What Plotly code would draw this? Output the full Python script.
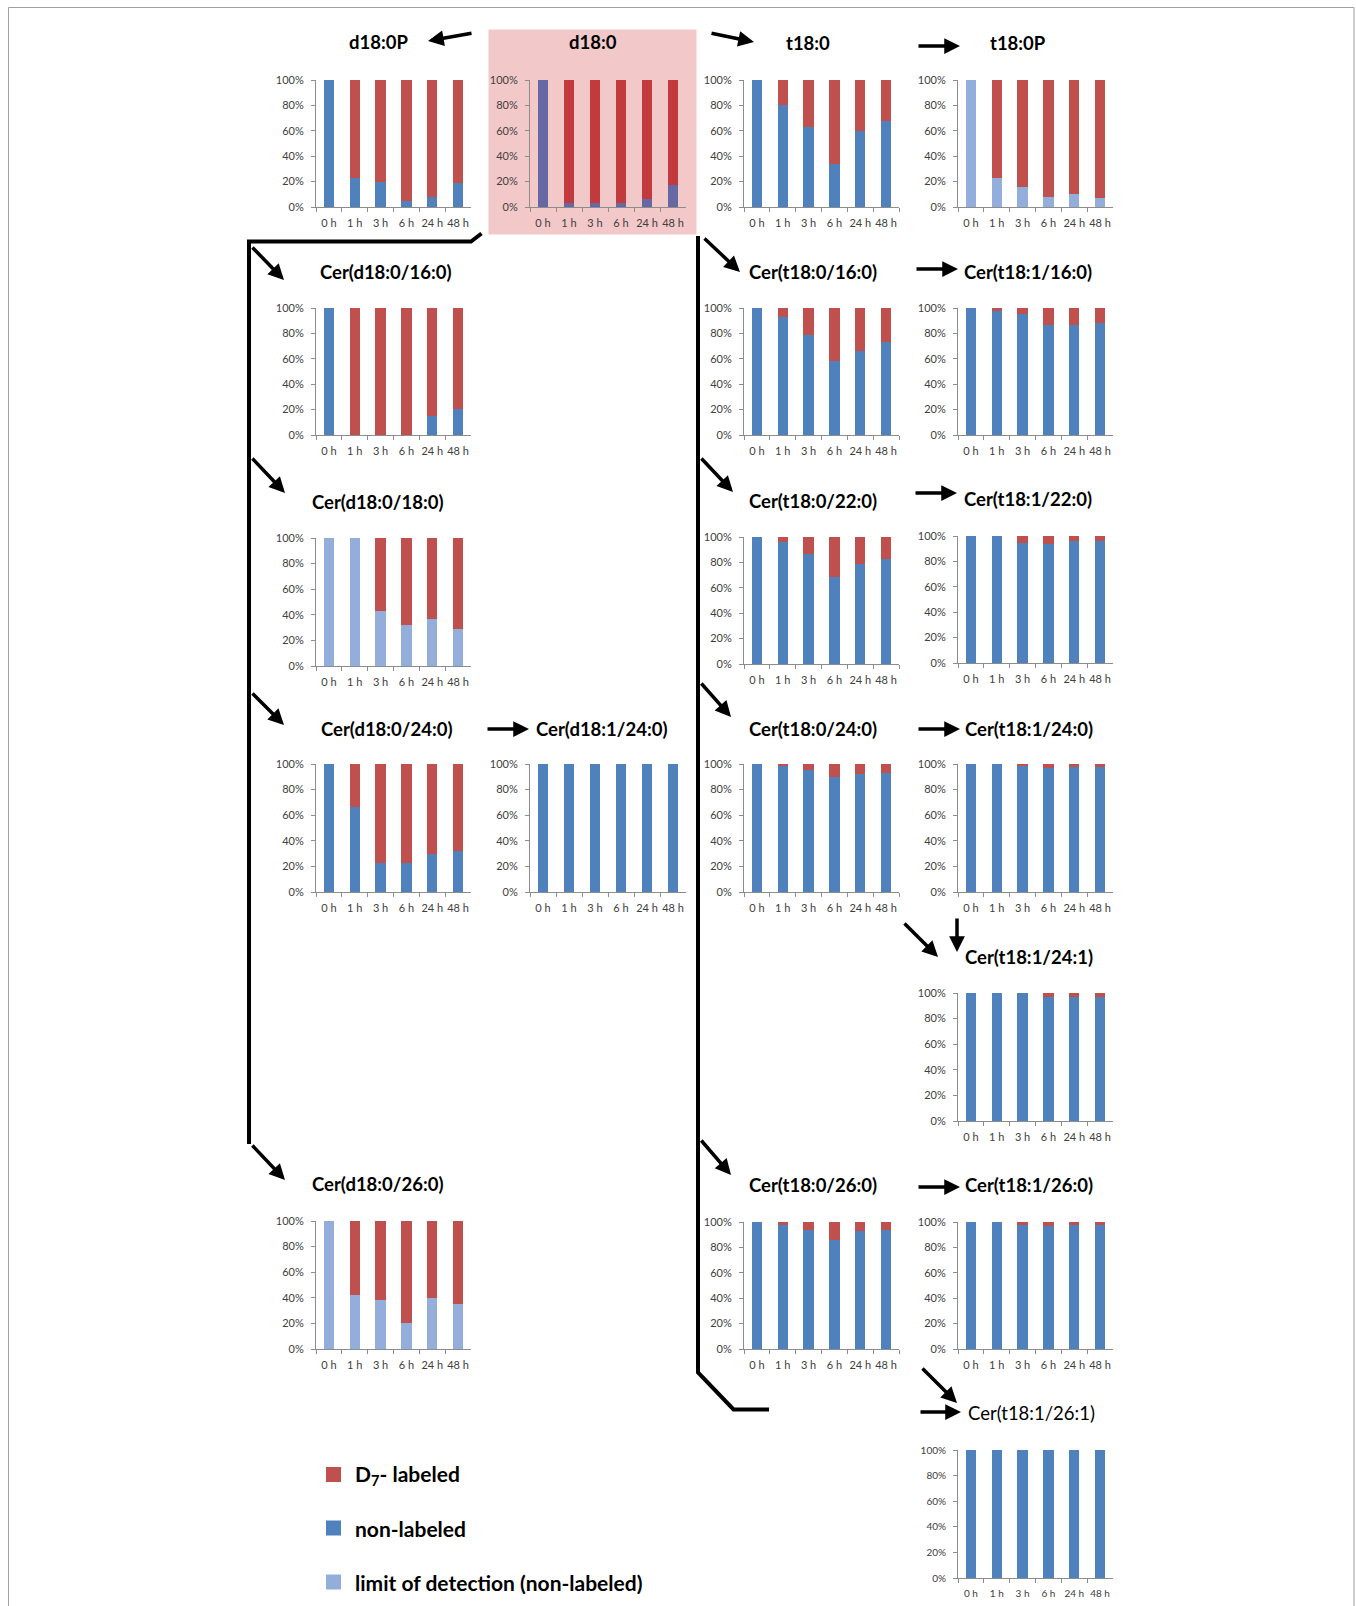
import plotly.graph_objects as go

W, H = 1356, 1606

# ---------------- data (percent of total) ----------------
hours = ["0 h", "1 h", "3 h", "6 h", "24 h", "48 h"]

d180P_non = [100, 22.5, 19.5, 4.5, 8, 19]
d180P_lab = [0, 77.5, 80.5, 95.5, 92, 81]

d180_non = [100, 3, 3, 3.5, 6, 17]
d180_lab = [0, 97, 97, 96.5, 94, 83]

t180_non = [100, 80, 63, 34, 59.5, 68]
t180_lab = [0, 20, 37, 66, 40.5, 32]

t180P_lod = [100, 23, 16, 8, 10, 7]
t180P_lab = [0, 77, 84, 92, 90, 93]

cer_d180_160_non = [100, 0, 0, 0, 15, 20.5]
cer_d180_160_lab = [0, 100, 100, 100, 85, 79.5]

cer_t180_160_non = [100, 93, 78.5, 58.5, 66, 73.5]
cer_t180_160_lab = [0, 7, 21.5, 41.5, 34, 26.5]

cer_t181_160_non = [100, 98, 95.5, 86.5, 86.5, 88.5]
cer_t181_160_lab = [0, 2, 4.5, 13.5, 13.5, 11.5]

cer_d180_180_lod = [100, 100, 43, 32, 36.5, 29]
cer_d180_180_lab = [0, 0, 57, 68, 63.5, 71]

cer_t180_220_non = [100, 96, 87, 68.5, 78.5, 83]
cer_t180_220_lab = [0, 4, 13, 31.5, 21.5, 17]

cer_t181_220_non = [100, 100, 94.5, 94, 96, 96]
cer_t181_220_lab = [0, 0, 5.5, 6, 4, 4]

cer_d180_240_non = [100, 66.5, 23, 22.5, 29.5, 32]
cer_d180_240_lab = [0, 33.5, 77, 77.5, 70.5, 68]

cer_d181_240_non = [100, 100, 100, 100, 100, 100]
cer_d181_240_lab = [0, 0, 0, 0, 0, 0]

cer_t180_240_non = [100, 98.5, 95, 89.5, 92, 93]
cer_t180_240_lab = [0, 1.5, 5, 10.5, 8, 7]

cer_t181_240_non = [100, 100, 99, 97, 97.5, 97.5]
cer_t181_240_lab = [0, 0, 1, 3, 2.5, 2.5]

cer_t181_241_non = [100, 100, 100, 97, 96.5, 96.5]
cer_t181_241_lab = [0, 0, 0, 3, 3.5, 3.5]

cer_d180_260_lod = [100, 42, 38, 20, 39.5, 35.5]
cer_d180_260_lab = [0, 58, 62, 80, 60.5, 64.5]

cer_t180_260_non = [100, 98, 93.5, 86, 93, 94]
cer_t180_260_lab = [0, 2, 6.5, 14, 7, 6]

cer_t181_260_non = [100, 100, 98, 97, 97.5, 97.5]
cer_t181_260_lab = [0, 0, 2, 3, 2.5, 2.5]

cer_t181_261_non = [100, 100, 100, 100, 100, 100]
cer_t181_261_lab = [0, 0, 0, 0, 0, 0]

legend_labels = ["D<sub>7</sub>- labeled", "non-labeled", "limit of detection (non-labeled)"]
y_ticks = [0, 20, 40, 60, 80, 100]
y_ticktext = ["0%", "20%", "40%", "60%", "80%", "100%"]

# ---------------- styles ----------------
BLUE = "#4F81BD"
RED = "#C0504D"
LOD = "#93AEDA"
PINK = "#F3C8C9"
PINK_BLUE = "#6568A2"
PINK_RED = "#C23A3C"
AXIS = "#8C8C8C"
TICKCOL = "#404040"
FONT = "Lato"


def px(x):
    return x / W


def py(y):
    return 1 - y / H


# columns (left, right) and rows (top, bottom) in pixels
CL, CM, CR1, CR2 = (316, 471), (530, 686), (744, 899), (958, 1113)

panels = [
    ("d18:0P", d180P_non, d180P_lab, "non", CL, (80, 207), (378, 42), "bold"),
    ("d18:0", d180_non, d180_lab, "pink", CM, (80, 207), (593, 42), "bold"),
    ("t18:0", t180_non, t180_lab, "non", CR1, (80, 207), (808, 43), "bold"),
    ("t18:0P", t180P_lod, t180P_lab, "lod", CR2, (80, 207), (1018, 43), "bold"),
    ("Cer(d18:0/16:0)", cer_d180_160_non, cer_d180_160_lab, "non", CL, (308, 435), (386, 272), "bold"),
    ("Cer(t18:0/16:0)", cer_t180_160_non, cer_t180_160_lab, "non", CR1, (308, 435), (813, 272), "bold"),
    ("Cer(t18:1/16:0)", cer_t181_160_non, cer_t181_160_lab, "non", CR2, (308, 435), (1028, 272), "bold"),
    ("Cer(d18:0/18:0)", cer_d180_180_lod, cer_d180_180_lab, "lod", CL, (538, 666), (378, 502), "bold"),
    ("Cer(t18:0/22:0)", cer_t180_220_non, cer_t180_220_lab, "non", CR1, (537, 664), (813, 501), "bold"),
    ("Cer(t18:1/22:0)", cer_t181_220_non, cer_t181_220_lab, "non", CR2, (536, 663), (1028, 499), "bold"),
    ("Cer(d18:0/24:0)", cer_d180_240_non, cer_d180_240_lab, "non", CL, (764, 892), (387, 729), "bold"),
    ("Cer(d18:1/24:0)", cer_d181_240_non, cer_d181_240_lab, "non", CM, (764, 892), (602, 729), "bold"),
    ("Cer(t18:0/24:0)", cer_t180_240_non, cer_t180_240_lab, "non", CR1, (764, 892), (813, 729), "bold"),
    ("Cer(t18:1/24:0)", cer_t181_240_non, cer_t181_240_lab, "non", CR2, (764, 892), (1029, 729), "bold"),
    ("Cer(t18:1/24:1)", cer_t181_241_non, cer_t181_241_lab, "non", CR2, (993, 1121), (1029, 957), "bold"),
    ("Cer(d18:0/26:0)", cer_d180_260_lod, cer_d180_260_lab, "lod", CL, (1221, 1349), (378, 1184), "bold"),
    ("Cer(t18:0/26:0)", cer_t180_260_non, cer_t180_260_lab, "non", CR1, (1222, 1349), (813, 1185), "bold"),
    ("Cer(t18:1/26:0)", cer_t181_260_non, cer_t181_260_lab, "non", CR2, (1222, 1349), (1029, 1185), "bold"),
    ("Cer(t18:1/26:1)", cer_t181_261_non, cer_t181_261_lab, "non", CR2, (1450, 1578), (1031, 1413), "small"),
]

fig = go.Figure()
layout_axes = {}
annotations = []
shapes = []

# pink highlight behind d18:0
shapes.append(dict(type="rect", xref="paper", yref="paper",
                   x0=px(488.5), x1=px(696.5), y0=py(234.5), y1=py(29.5),
                   fillcolor=PINK, line=dict(width=0), layer="below"))

for i, (title, base, lab, kind, (xl, xr), (yt, yb), (tx, ty), style) in enumerate(panels, start=1):
    xa = "x" if i == 1 else f"x{i}"
    ya = "y" if i == 1 else f"y{i}"
    if kind == "non":
        bcol, rcol = BLUE, RED
    elif kind == "lod":
        bcol, rcol = LOD, RED
    else:
        bcol, rcol = PINK_BLUE, PINK_RED
    fig.add_trace(go.Bar(x=hours, y=base, xaxis=xa, yaxis=ya, marker=dict(color=bcol, line=dict(width=0)),
                         width=0.4, showlegend=False))
    fig.add_trace(go.Bar(x=hours, y=lab, xaxis=xa, yaxis=ya, marker=dict(color=rcol, line=dict(width=0)),
                         width=0.4, showlegend=False))
    tfs = 10 if style == "small" else 11
    layout_axes["xaxis" if i == 1 else f"xaxis{i}"] = dict(
        domain=[px(xl), px(xr)], anchor=ya, type="category", range=[-0.5, 5.5],
        showline=True, linecolor=AXIS, linewidth=1, ticks="outside", tickson="boundaries",
        ticklen=4, tickcolor=AXIS, showgrid=False, zeroline=False, fixedrange=True, tickangle=0,
        automargin=False,
        tickfont=dict(family=FONT, size=tfs, color=TICKCOL), ticklabelstandoff=6)
    layout_axes["yaxis" if i == 1 else f"yaxis{i}"] = dict(
        domain=[py(yb), py(yt)], anchor=xa, range=[0, 100], tickvals=y_ticks, ticktext=y_ticktext,
        showline=True, linecolor=AXIS, linewidth=1, ticks="outside", ticklen=4, tickcolor=AXIS,
        showgrid=False, zeroline=False, fixedrange=True, automargin=False,
        tickfont=dict(family=FONT, size=tfs, color=TICKCOL), ticklabelstandoff=5)
    if style == "small":
        txt, fs = title, 18.5
    else:
        txt, fs = f"<b>{title}</b>", 18.5
    annotations.append(dict(text=txt, x=px(tx), y=py(ty), xref="paper", yref="paper",
                            xanchor="center", yanchor="middle", showarrow=False,
                            font=dict(family=FONT, size=fs, color="#000000")))


def path(points):
    return "M " + " L ".join(f"{px(x):.5f},{py(y):.5f}" for x, y in points)


# connecting bracket lines
shapes.append(dict(type="path", xref="paper", yref="paper",
                   path=path([(481.5, 233.5), (471, 241.5), (249, 241.5), (249, 1144)]),
                   line=dict(color="black", width=4)))
shapes.append(dict(type="path", xref="paper", yref="paper",
                   path=path([(698, 236), (698, 1372.5), (733.5, 1409.5), (769, 1409.5)]),
                   line=dict(color="black", width=4)))

# frame
shapes.append(dict(type="rect", xref="paper", yref="paper",
                   x0=px(8.5), x1=px(1354), y0=py(1700), y1=py(7.5),
                   line=dict(color="#A0A0A0", width=1), fillcolor="rgba(0,0,0,0)", layer="below"))

# arrows: (tail, head)
arrows = [
    ((473, 33), (428, 41)),
    ((710, 33), (754, 42)),
    ((917, 46), (960, 46)),
    ((251, 246), (284, 280)),
    ((251, 457), (285, 493)),
    ((251, 692), (284, 725)),
    ((251, 1144), (285, 1180)),
    ((486, 729), (529, 729)),
    ((703, 237), (740, 272)),
    ((700, 457), (733, 492)),
    ((700, 682), (731, 717)),
    ((700, 1139), (731, 1175)),
    ((915, 269), (958, 269)),
    ((914, 493), (957, 493)),
    ((917, 729), (960, 729)),
    ((917, 1187), (960, 1187)),
    ((903, 922), (938, 957)),
    ((957, 917), (957, 952)),
    ((921, 1367), (957, 1403)),
    ((919, 1412), (961, 1412)),
]
for (tx, ty), (hx, hy) in arrows:
    annotations.append(dict(text="", x=px(hx), y=py(hy), xref="paper", yref="paper",
                            ax=tx - hx, ay=ty - hy, axref="pixel", ayref="pixel",
                            showarrow=True, arrowhead=2, arrowsize=0.9, arrowwidth=3.5,
                            arrowcolor="black", standoff=0, startstandoff=0))

# legend (drawn manually)
leg_cols = [RED, BLUE, LOD]
leg_y = [1474.5, 1528, 1582]
for lbl, col, yy in zip(legend_labels, leg_cols, leg_y):
    shapes.append(dict(type="rect", xref="paper", yref="paper",
                       x0=px(326), x1=px(341), y0=py(yy + 7.5), y1=py(yy - 7.5),
                       fillcolor=col, line=dict(width=0)))
    annotations.append(dict(text=f"<b>{lbl}</b>", x=px(353), y=py(yy), xref="paper", yref="paper",
                            xanchor="left", yanchor="middle", showarrow=False,
                            font=dict(family=FONT, size=21, color="#000000")))

fig.update_layout(
    width=W, height=H, margin=dict(l=0, r=0, t=0, b=0, pad=0, autoexpand=False),
    paper_bgcolor="white", plot_bgcolor="rgba(0,0,0,0)",
    barmode="stack", showlegend=False,
    annotations=annotations, shapes=shapes,
    **layout_axes,
)

page_css = ("var s=document.createElement('style');"
            "s.innerHTML='html,body{margin:0 !important;padding:0 !important;overflow:hidden;}';"
            "document.head.appendChild(s);")
fig.write_html("out.html", post_script=page_css)
